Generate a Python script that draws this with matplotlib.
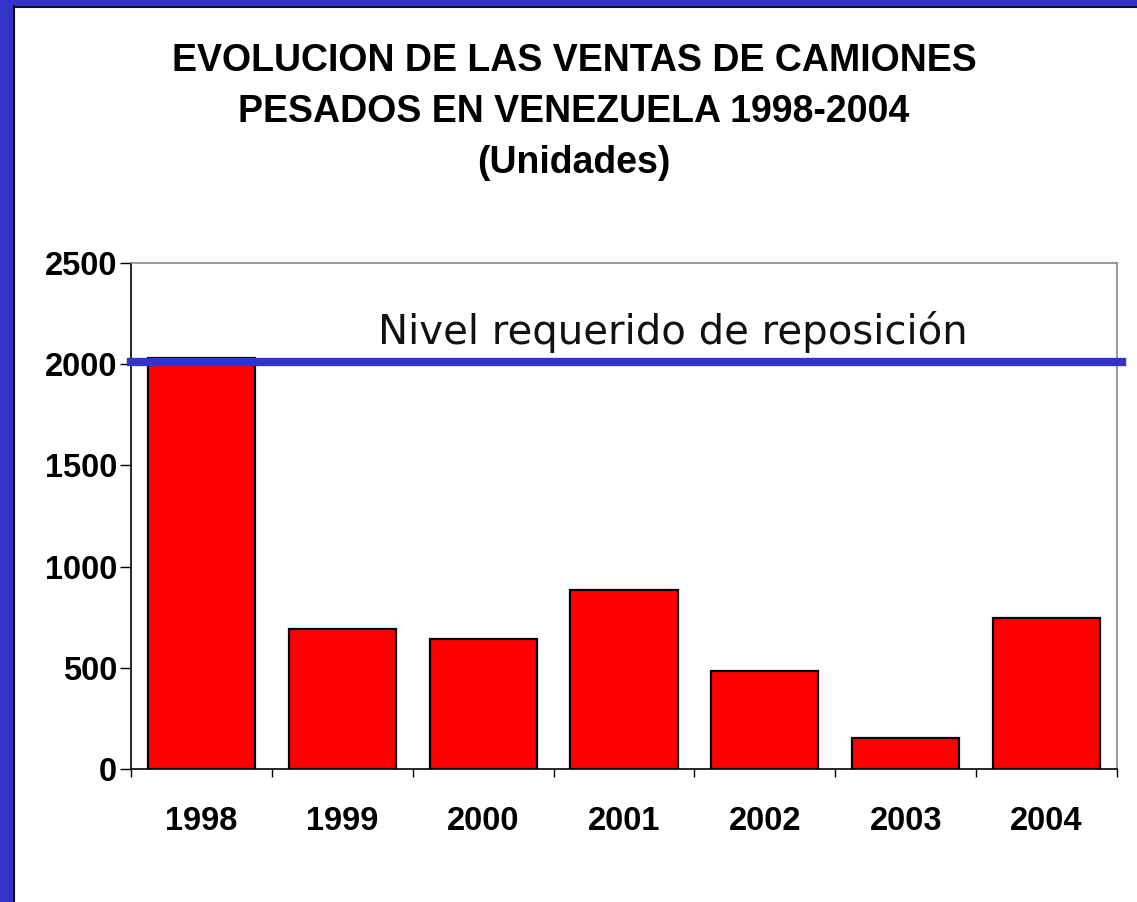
# -*- coding:utf-8 -*-
import matplotlib
matplotlib.use('Agg')
import matplotlib.pyplot as plt
from matplotlib.patches import Rectangle

years = ['1998', '1999', '2000', '2001', '2002', '2003', '2004']
ventas = [2030, 690, 640, 885, 485, 155, 745]
nivel_reposicion = 2010
yticks = [0, 500, 1000, 1500, 2000, 2500]
titulo = ['EVOLUCION DE LAS VENTAS DE CAMIONES',
          'PESADOS EN VENEZUELA 1998-2004',
          '(Unidades)']
etiqueta_linea = 'Nivel requerido de reposición'


def main():
    W, H = 1137, 902
    fig = plt.figure(figsize=(W / 100, H / 100), dpi=100)
    fig.patch.set_facecolor('white')

    # marco azul (izquierda y arriba)
    azul = '#3333cc'
    fig.patches.append(Rectangle((0, 0), 13 / W, 1, transform=fig.transFigure,
                                 facecolor=azul, edgecolor='none', zorder=0))
    fig.patches.append(Rectangle((0, 1 - 6 / H), 1, 6 / H, transform=fig.transFigure,
                                 facecolor=azul, edgecolor='none', zorder=0))
    fig.add_artist(plt.Line2D([14 / W, 14 / W], [0, 1 - 6 / H], transform=fig.transFigure,
                              color='#111111', linewidth=1.5))
    fig.add_artist(plt.Line2D([14 / W, 1], [1 - 6.5 / H, 1 - 6.5 / H], transform=fig.transFigure,
                              color='#111111', linewidth=1.5))

    # titulo
    font = 'Liberation Sans'
    for i, linea in enumerate(titulo):
        fig.text(574 / W, 1 - (61 + 51 * i) / H, linea, ha='center', va='center',
                 fontsize=27, fontweight='bold', family=font)

    ax = fig.add_axes([131 / W, 1 - 769 / H, (1117 - 131) / W, (769 - 263) / H])
    x = list(range(len(years)))
    ax.bar(x, ventas, width=0.76, color='#ff0000', edgecolor='black', linewidth=1.6, zorder=2)
    ax.set_xlim(-0.5, len(years) - 0.5)
    ax.set_ylim(0, 2500)

    ax.axhline(nivel_reposicion, xmin=0, xmax=1.005, color=azul, linewidth=6,
               clip_on=False, zorder=3)
    ax.text(3.35, nivel_reposicion + 90, etiqueta_linea, ha='center', va='baseline',
            fontsize=29, family='DejaVu Sans', color='#111111')

    ax.set_yticks(yticks)
    ax.set_yticklabels([str(v) for v in yticks], fontsize=23.5, fontweight='bold', family=font)
    ax.set_xticks(x)
    ax.set_xticklabels(years, fontsize=23.5, fontweight='bold', family=font)
    ax.set_xticks([i - 0.5 for i in range(len(years) + 1)], minor=True)
    ax.tick_params(axis='x', which='major', length=0, pad=27)
    ax.tick_params(axis='x', which='minor', length=6, width=1, direction='out')
    ax.tick_params(axis='y', length=8, width=1, direction='out', pad=2)

    for s in ['top', 'right']:
        ax.spines[s].set_color('#888888')
        ax.spines[s].set_linewidth(1.2)
    for s in ['left', 'bottom']:
        ax.spines[s].set_color('black')
        ax.spines[s].set_linewidth(1.2)

    plt.savefig('out.png', dpi=100)


if __name__ == '__main__':
    main()
